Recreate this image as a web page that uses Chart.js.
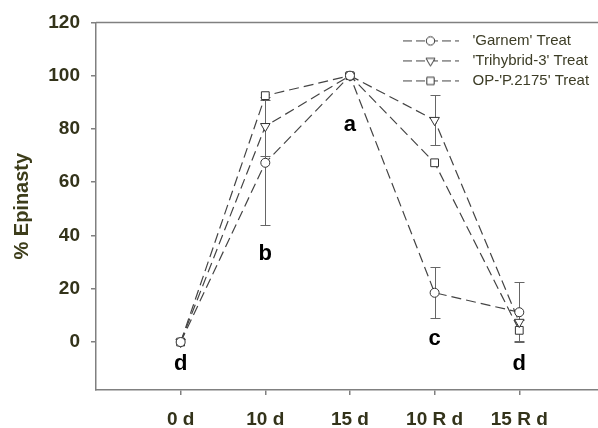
<!DOCTYPE html>
<html><head><meta charset="utf-8">
<script src="https://cdn.jsdelivr.net/npm/chart.js@4.4.1/dist/chart.umd.min.js"></script>
<style>html,body{margin:0;padding:0;background:#fff;} #wrap{width:598px;height:428px;}</style>
</head><body><div id="wrap"><canvas id="c" width="598" height="428"></canvas></div>
<script>
// ---- data ----
const categories = ['0 d', '10 d', '15 d', '10 R d', '15 R d'];
const seriesNames = ["'Garnem' Treat", "'Trihybrid-3' Treat", "OP-'P.2175' Treat"];
const garnem = [0, 67.3, 100, 18.5, 11.2];
const garnemErr = [0, 23.4, 0, 9.5, 11.2];
const trihybrid = [0, 81, 100, 83.3, 7.5];
const trihybridErr = [0, 11, 0, 9.5, 0];
const op2175 = [0, 92.5, 100, 67.3, 4.4];
const op2175Err = [0, 0, 0, 0, 4];
const yTicks = [0, 20, 40, 60, 80, 100, 120];
const letterTexts = ['d', 'b', 'a', 'c', 'd'];
const letterValues = [-10.6, 30.8, 79.4, -1.2, -10.6];

// ---- styles ----
const FONT = "'Liberation Sans', Arial, sans-serif";
const LINE_COLOR = '#444444';
const MARK_COLOR = '#333333';
const AXIS_COLOR = '#808080';
const TEXT_COLOR = '#33331a';
const styles = [
  {pointStyle: 'circle', radius: 4.5, rotation: 0},
  {pointStyle: 'triangle', radius: 5.5, rotation: 180},
  {pointStyle: 'rect', radius: 5.5, rotation: 0}
];
const seriesValues = [garnem, trihybrid, op2175];
const seriesErrors = [garnemErr, trihybridErr, op2175Err];

function makeIcon(st) {
  const cv = document.createElement('canvas');
  cv.width = 62; cv.height = 14;
  const g = cv.getContext('2d');
  g.strokeStyle = LINE_COLOR; g.lineWidth = 1;
  g.setLineDash([9, 4]);
  g.beginPath(); g.moveTo(0, 7.5); g.lineTo(56, 7.5); g.stroke();
  g.setLineDash([]);
  g.fillStyle = '#ffffff'; g.strokeStyle = MARK_COLOR; g.lineWidth = 1;
  Chart.helpers.drawPoint(g, {pointStyle: st.pointStyle, radius: st.radius - 0.3, rotation: st.rotation, borderWidth: 1}, 27.5, 7.5);
  return cv;
}
const legendIcons = styles.map(makeIcon);

const datasets = seriesValues.map((vals, k) => ({
  label: seriesNames[k],
  data: vals.map((v, i) => ({x: i, y: v})),
  borderColor: LINE_COLOR,
  borderWidth: 1.2,
  borderDash: [10, 5],
  fill: false,
  tension: 0,
  pointStyle: styles[k].pointStyle,
  pointRadius: styles[k].radius,
  pointRotation: styles[k].rotation,
  pointBackgroundColor: '#ffffff',
  pointBorderColor: MARK_COLOR,
  pointBorderWidth: 1,
  errors: seriesErrors[k]
}));

const legendPlacer = {
  id: 'legendPlacer',
  beforeInit(chart) {
    const lg = chart.legend;
    if (lg) {
      const f = lg.fit;
      lg.fit = function () { f.call(this); this.height = 20; };
    }
  },
  afterLayout(chart) {
    const lg = chart.legend, ca = chart.chartArea;
    lg.left = ca.right - 200; lg.right = ca.right;
    lg.top = ca.top + 5.5; lg.bottom = ca.top + 85;
    lg.width = lg.right - lg.left; lg.height = lg.bottom - lg.top;
  }
};

const decor = {
  id: 'decor',
  beforeDatasetsDraw(chart) {
    const {ctx, chartArea: ca, scales: {x, y}} = chart;
    ctx.save();
    ctx.strokeStyle = AXIS_COLOR; ctx.lineWidth = 1.5;
    ctx.beginPath(); ctx.moveTo(ca.left, ca.top); ctx.lineTo(ca.right, ca.top); ctx.stroke();
    // error bars
    ctx.strokeStyle = '#666666'; ctx.lineWidth = 1;
    chart.data.datasets.forEach(ds => {
      ds.data.forEach((p, i) => {
        const e = ds.errors[i];
        if (!e) return;
        const px = Math.round(x.getPixelForValue(p.x)) + 0.5;
        const yt = Math.round(y.getPixelForValue(p.y + e)) + 0.5;
        const yb = Math.round(y.getPixelForValue(p.y - e)) + 0.5;
        ctx.beginPath();
        ctx.moveTo(px, yt); ctx.lineTo(px, yb);
        ctx.moveTo(px - 5, yt); ctx.lineTo(px + 5, yt);
        ctx.moveTo(px - 5, yb); ctx.lineTo(px + 5, yb);
        ctx.stroke();
      });
    });
    ctx.restore();
  },
  afterDatasetsDraw(chart) {
    const {ctx, scales: {x, y}} = chart;
    ctx.save();
    ctx.fillStyle = '#000000';
    ctx.font = 'bold 22px ' + FONT;
    ctx.textAlign = 'center'; ctx.textBaseline = 'alphabetic';
    letterTexts.forEach((t, i) => {
      ctx.fillText(t, x.getPixelForValue(i), y.getPixelForValue(letterValues[i]));
    });
    ctx.restore();
  }
};

new Chart(document.getElementById('c'), {
  type: 'line',
  data: {datasets},
  options: {
    responsive: false, animation: false, devicePixelRatio: 1,
    layout: {padding: 0, autoPadding: false},
    plugins: {
      legend: {
        display: true, position: 'top', align: 'start',
        labels: {
          usePointStyle: true, pointStyleWidth: 62, padding: 5,
          font: {family: FONT, size: 15}, color: '#3d3d26',
          generateLabels: (chart) => chart.data.datasets.map((ds, i) => ({
            text: ds.label, pointStyle: legendIcons[i], fillStyle: '#fff',
            strokeStyle: 'transparent', lineWidth: 0, hidden: false, datasetIndex: i, fontColor: '#3d3d26'
          }))
        }
      },
      tooltip: {enabled: false}
    },
    scales: {
      x: {
        type: 'linear', min: -1, max: 4.93,
        afterBuildTicks: (s) => { s.ticks = categories.map((c, i) => ({value: i})); },
        afterFit: (s) => { s.height = 38; },
        ticks: {callback: (v) => categories[v], font: {family: FONT, size: 19, weight: 'bold'}, color: TEXT_COLOR, padding: 13, autoSkip: false, maxRotation: 0},
        grid: {drawOnChartArea: false, tickLength: 5, color: AXIS_COLOR, lineWidth: 1.5},
        border: {color: AXIS_COLOR, width: 1.5}
      },
      y: {
        min: -18, max: 120,
        afterBuildTicks: (s) => { s.ticks = yTicks.map(v => ({value: v})); },
        afterFit: (s) => { s.width = 96; },
        ticks: {font: {family: FONT, size: 19, weight: 'bold'}, color: TEXT_COLOR, padding: 11},
        title: {display: true, text: '% Epinasty', font: {family: FONT, size: 20, weight: 'bold'}, color: '#3d3d1a', padding: {top: 10, bottom: 0}},
        grid: {drawOnChartArea: false, tickLength: 5, color: AXIS_COLOR, lineWidth: 1.5},
        border: {color: AXIS_COLOR, width: 1.5}
      }
    }
  },
  plugins: [legendPlacer, decor]
});
</script>
</body></html>
